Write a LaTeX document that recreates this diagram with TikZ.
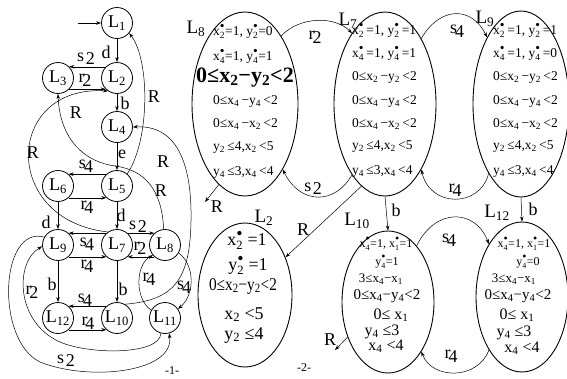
\documentclass[tikz,border=0pt]{standalone}
\usepackage{fontspec}
\setmainfont{Liberation Serif}
\usetikzlibrary{arrows.meta,shapes.geometric}
\newcommand\Sub[1]{\textsubscript{#1}}
\makeatletter
\newcommand\dv[2]{#1\ensuremath{\m@th^{\mbox{\fontsize{\f@size}{0}\selectfont •}}_{\mbox{\fontsize{\sf@size}{0}\selectfont #2}}}}
\makeatother
\newcommand\ls[2]{#1\kern-2pt\raisebox{-4pt}{#2}}
\newcommand\lsp[2]{#1\kern1.5pt\raisebox{-3pt}{#2}}
\begin{document}
\begin{tikzpicture}[x=1pt,y=-1pt,
  st/.style={circle,draw,line width=0.8pt,minimum size=31pt,inner sep=0pt,font=\fontsize{18}{18}\selectfont},
  ed/.style={-{Stealth[length=5pt,width=3.5pt]},line width=0.5pt},
  lab/.style={inner sep=0pt,font=\fontsize{18}{18}\selectfont},
  biglab/.style={inner sep=0pt,font=\fontsize{19}{19}\selectfont},
  ell/.style={ellipse,draw,line width=0.9pt,inner sep=0pt},
  row/.style={inner sep=0pt,anchor=mid west,font=\fontsize{13.5}{14}\selectfont},
  boldrow/.style={inner sep=0pt,anchor=mid west,font=\fontsize{22}{22}\selectfont\bfseries},
  crow/.style={inner sep=0pt,anchor=mid,font=\fontsize{#1}{#1}\selectfont},
  small/.style={inner sep=0pt,font=\fontsize{12}{12}\selectfont}]
\useasboundingbox (0,0) rectangle (567,378);
% ---------- left graph ----------
\node[st] (L1) at (117,23) {L\Sub{1}};
\node[st] (L2) at (117,78) {L\Sub{2}};
\node[st] (L3) at (58,78) {L\Sub{3}};
\node[st] (L4) at (117,127) {L\Sub{4}};
\node[st] (L5) at (117,186) {L\Sub{5}};
\node[st] (L6) at (58,186) {L\Sub{6}};
\node[st] (L7) at (117,245) {L\Sub{7}};
\node[st] (L8) at (165,245) {L\Sub{8}};
\node[st] (L9) at (58,245) {L\Sub{9}};
\node[st] (L10) at (117,318) {L\Sub{10}};
\node[st] (L11) at (165,318) {L\Sub{11}};
\node[st] (L12) at (58,318) {L\Sub{12}};
\coordinate (i0) at (78,23);
\draw[ed] (i0) -- (L1);
\draw[ed] (L1) -- (L2);
\draw[ed] (L2.135) -- (L3.45);
\draw[ed] (L3.-45) -- (L2.-135);
\draw[ed] (L2) -- (L4);
\draw[ed] (L4) -- (L5);
\draw[ed] (L5.132) -- (L6.48);
\draw[ed] (L6.-48) -- (L5.-132);
\draw[ed] (L5.50) .. controls (150,140) and (150,60) .. (L1.-40);
\draw[ed] (L6) -- (L9);
\draw[ed] (L5) -- (L7);
\draw[ed] (L7.132) -- (L9.48);
\draw[ed] (L9.-48) -- (L7.-132);
\draw[ed] (L7.48) -- (L8.132);
\draw[ed] (L8.-132) -- (L7.-48);
\draw[ed] (L8.-30) .. controls (195,265) and (195,295) .. (L11.35);
\draw[ed] (L11.150) .. controls (135,300) and (135,265) .. (L8.-140);
\draw[ed] (L9) -- (L12);
\draw[ed] (L7) -- (L10);
\draw[ed] (L10.132) -- (L12.48);
\draw[ed] (L12.-48) -- (L10.-132);
\draw[ed] (L7.125) .. controls (0,220) and (5,85) .. (L2.-125);
\draw[ed] (L8.95) .. controls (162,190) and (145,170) .. (115,166) .. controls (85,162) and (60,140) .. (L3.-90);
\draw[ed] (L10.60) .. controls (175,300) and (192,280) .. (191,210) .. controls (190,160) and (175,125) .. (L4.east);
\draw[ed] (L11.-105) .. controls (160,355) and (90,355) .. (60,342) .. controls (15,322) and (15,262) .. (L9.185);
\draw[ed] (L9.150) .. controls (0,225) and (-5,340) .. (40,362) .. controls (90,382) and (175,372) .. (L11.-75);
\node[lab] (la1) at (106,52) {d};
\node[lab] (la2) at (86,59) {\lsp{s}{2}};
\node[lab] (la3) at (85,80) {\ls{r}{2}};
\node[lab] (la4) at (125,103) {b};
\node[lab] (la5) at (154,97) {R};
\node[lab] (la6) at (76,113) {R};
\node[lab] (la7) at (33,153) {R};
\node[lab] (la8) at (122,154) {e};
\node[lab] (la9) at (163,162) {R};
\node[lab] (la10) at (86,166) {\ls{s}{4}};
\node[lab] (la11) at (161,191) {R};
\node[lab] (la12) at (87,207) {\ls{r}{4}};
\node[lab] (la13) at (46,222) {d};
\node[lab] (la14) at (121,215) {d};
\node[lab] (la15) at (138,227) {\lsp{s}{2}};
\node[lab] (la16) at (87,244) {\ls{s}{4}};
\node[lab] (la17) at (140,248) {\ls{r}{2}};
\node[lab] (la18) at (87,266) {\ls{r}{4}};
\node[lab] (la19) at (32,292) {\ls{r}{2}};
\node[lab] (la20) at (52,284) {b};
\node[lab] (la21) at (123,289) {b};
\node[lab] (la22) at (149,279) {\ls{r}{4}};
\node[lab] (la23) at (184,287) {\ls{s}{4}};
\node[lab] (la24) at (85,300) {\ls{s}{4}};
\node[lab] (la25) at (88,323) {\ls{r}{4}};
\node[lab] (la26) at (66,361) {\lsp{s}{2}};
\node[small] (m1) at (172,371) {-1-};
\node[small] (m2) at (304,368) {-2-};
% ---------- right part ----------
\node[ell,minimum width=106pt,minimum height=184pt] (E8) at (245,104) {};
\node[ell,minimum width=102pt,minimum height=184pt] (E7) at (385,104) {};
\node[ell,minimum width=96pt,minimum height=186pt] (E9) at (521,104) {};
\node[ell,minimum width=94pt,minimum height=144pt] (E2) at (245,295) {};
\node[ell,minimum width=92pt,minimum height=142pt] (E10) at (388,302) {};
\node[ell,minimum width=92pt,minimum height=150pt] (E12) at (522,297) {};
\node[biglab] (tL8) at (196,29) {L\Sub{8}};
\node[biglab] (tL7) at (348,21) {L\Sub{7}};
\node[biglab] (tL9) at (485,19) {L\Sub{9}};
\node[biglab] (tL10) at (357,221) {L\Sub{10}};
\node[biglab] (tL12) at (497,213) {L\Sub{12}};
\node[biglab] (tL2) at (264,218) {L\Sub{2}};
\draw[ed] (E8.62) .. controls (300,16) and (335,16) .. (E7.115);
\draw[ed] (E7.-115) .. controls (335,205) and (300,205) .. (E8.-60);
\draw[ed] (E7.61) .. controls (440,6) and (472,6) .. (E9.117);
\draw[ed] (E9.-115) .. controls (480,208) and (430,208) .. (E7.-61);
\draw[ed] (E7.south) -- (E10.north);
\draw[ed] (E9.south) -- (E12.north);
\draw[ed] (E10.63) .. controls (435,208) and (475,208) .. (E12.122);
\draw[ed] (E12.-122) .. controls (478,380) and (432,380) .. (E10.-56);
\draw[ed] (E7.-106) -- (E2.43);
\coordinate (r8) at (205,202);
\draw[ed] (E8.-108) -- (r8);
\coordinate (r10) at (335,350);
\draw[ed] (E10.-139) -- (r10);
\node[lab] (rb1) at (315,37) {\ls{r}{2}};
\node[lab] (rb2) at (313,189) {\lsp{s}{2}};
\node[lab] (rb3) at (457,31) {\ls{s}{4}};
\node[lab] (rb4) at (455,190) {\ls{r}{4}};
\node[lab] (rb5) at (449,240) {\ls{s}{4}};
\node[lab] (rb6) at (451,356) {\ls{r}{4}};
\node[lab] (rb7) at (396,210) {b};
\node[lab] (rb8) at (533,209) {b};
\node[lab] (rb9) at (303,230) {R};
\node[lab] (rb10) at (217,207) {R};
\node[lab] (rb11) at (330,340) {R};
% L8 texts
\node[row] (a1) at (213,33) {\dv{x}{2}=1, \dv{y}{2}=0};
\node[row] (a2) at (213,58) {\dv{x}{4}=1, \dv{y}{4}=1};
\node[boldrow] (a3) at (196,80) {0≤x\Sub{2}−y\Sub{2}<2};
\node[row] (a4) at (213,102) {0≤x\Sub{4}\,−y\Sub{4}\,<2};
\node[row] (a5) at (213,125) {0≤x\Sub{4}\,−x\Sub{2}\,<2};
\node[row] (a6) at (213,148) {y\Sub{2}\,≤4,x\Sub{2}\,<5};
\node[row] (a7) at (213,173) {y\Sub{4}\,≤3,x\Sub{4}\,<4};
% L7 texts
\node[row] (b1) at (352,32) {\dv{x}{2}\,=1, \dv{y}{2}\,=1};
\node[row] (b2) at (352,55) {\dv{x}{4}\,=1, \dv{y}{4}\,=1};
\node[row] (b3) at (352,78) {0≤x\Sub{2}\,−y\Sub{2}\,<2};
\node[row] (b4) at (352,102) {0≤x\Sub{4}\,−y\Sub{4}\,<2};
\node[row] (b5) at (352,125) {0≤x\Sub{4}\,−x\Sub{2}\,<2};
\node[row] (b6) at (352,147) {y\Sub{2}\,≤4,x\Sub{2}\,<5};
\node[row] (b7) at (352,172) {y\Sub{4}\,≤3,x\Sub{4}\,<4};
% L9 texts
\node[row] (c1) at (493,32) {\dv{x}{2}\,=1, \dv{y}{2}\,=1};
\node[row] (c2) at (493,55) {\dv{x}{4}\,=1, \dv{y}{4}\,=0};
\node[row] (c3) at (493,78) {0≤x\Sub{2}\,−y\Sub{2}\,<2};
\node[row] (c4) at (493,102) {0≤x\Sub{4}\,−y\Sub{4}\,<2};
\node[row] (c5) at (493,125) {0≤x\Sub{4}\,−x\Sub{2}\,<2};
\node[row] (c6) at (493,147) {y\Sub{2}\,≤4,x\Sub{2}\,<5};
\node[row] (c7) at (493,172) {y\Sub{4}\,≤3,x\Sub{4}\,<4};
% L2 texts
\node[crow=18] (d1) at (247,243) {\dv{x}{2} =1};
\node[crow=18] (d2) at (248,268) {\dv{y}{2} =1};
\node[crow=18] (d3) at (243,288) {\scalebox{0.85}[1]{0≤x\Sub{2}−y\Sub{2}<2}};
\node[crow=18] (d4) at (244,317) {x\Sub{2} <5};
\node[crow=18] (d5) at (244,337) {y\Sub{2} ≤4};
% L10 texts
\node[crow=12] (e1) at (386,245) {\dv{x}{4}=1, \dv{x}{1}=1};
\node[crow=12] (e2) at (387,263) {\dv{y}{4}=1};
\node[crow=13] (e3) at (381,280) {3≤x\Sub{4}−x\Sub{1}};
\node[crow=15] (e4) at (387,297) {0≤x\Sub{4}−y\Sub{4}<2};
\node[crow=16] (e5) at (391,317) {0≤ x\Sub{1}};
\node[crow=16] (e6) at (382,333) {y\Sub{4} ≤3};
\node[crow=16] (e7) at (386,348) {x\Sub{4} <4};
% L12 texts
\node[crow=12] (f1) at (524,245) {\dv{x}{4}=1, \dv{x}{1}=1};
\node[crow=12] (f2) at (528,263) {\dv{y}{4}=0};
\node[crow=13] (f3) at (514,280) {3≤x\Sub{4}−x\Sub{1}};
\node[crow=15] (f4) at (518,297) {0≤x\Sub{4}−y\Sub{4}<2};
\node[crow=16] (f5) at (517,317) {0≤ x\Sub{1}};
\node[crow=16] (f6) at (514,334) {y\Sub{4} ≤3};
\node[crow=16] (f7) at (522,350) {x\Sub{4} <4};
\end{tikzpicture}
\end{document}
